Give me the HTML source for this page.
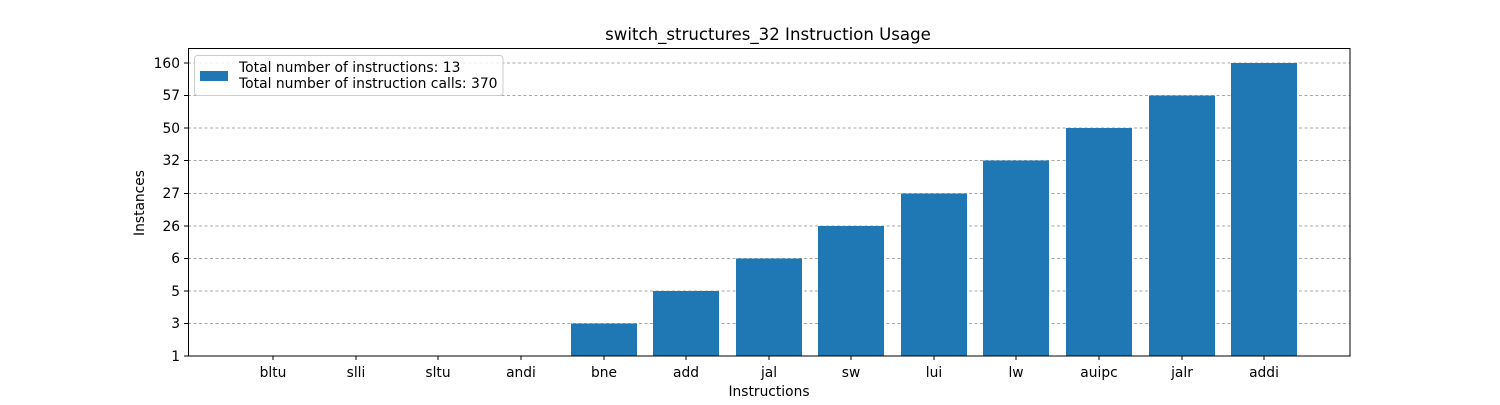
<!DOCTYPE html>
<html><head><meta charset="utf-8"><style>
html,body{margin:0;padding:0;background:#fff;}
svg text{font-family:"DejaVu Sans","Liberation Sans",sans-serif;fill:#000;}
</style></head><body>
<svg width="1500" height="400" xmlns="http://www.w3.org/2000/svg">
<rect width="1500" height="400" fill="#fff"/>
<text x="768" y="40" font-size="16.6" text-anchor="middle">switch_structures_32 Instruction Usage</text>
<g stroke="#a8a8a8" stroke-width="0.9" stroke-dasharray="3,2.5">
<line x1="188" x2="1350" y1="323.5" y2="323.5"/>
<line x1="188" x2="1350" y1="291" y2="291"/>
<line x1="188" x2="1350" y1="258.5" y2="258.5"/>
<line x1="188" x2="1350" y1="226" y2="226"/>
<line x1="188" x2="1350" y1="193.5" y2="193.5"/>
<line x1="188" x2="1350" y1="160.5" y2="160.5"/>
<line x1="188" x2="1350" y1="128" y2="128"/>
<line x1="188" x2="1350" y1="95.5" y2="95.5"/>
<line x1="188" x2="1350" y1="63" y2="63"/>
</g>
<g fill="#1f77b4">
<rect x="571" y="323.5" width="66" height="32.5"/>
<rect x="653" y="291" width="66" height="65"/>
<rect x="736" y="258.5" width="66" height="97.5"/>
<rect x="818" y="226" width="66" height="130"/>
<rect x="901" y="193.5" width="66" height="162.5"/>
<rect x="983" y="160.5" width="66" height="195.5"/>
<rect x="1066" y="128" width="66" height="228"/>
<rect x="1149" y="95.5" width="66" height="260.5"/>
<rect x="1231" y="63" width="66" height="293"/>
</g>
<rect x="188.5" y="48.5" width="1161.5" height="307.5" fill="none" stroke="#000" stroke-width="1"/>
<g stroke="#000" stroke-width="1">
<line x1="184" x2="188" y1="356" y2="356"/><line x1="184" x2="188" y1="323.5" y2="323.5"/>
<line x1="184" x2="188" y1="291" y2="291"/><line x1="184" x2="188" y1="258.5" y2="258.5"/>
<line x1="184" x2="188" y1="226" y2="226"/><line x1="184" x2="188" y1="193.5" y2="193.5"/>
<line x1="184" x2="188" y1="160.5" y2="160.5"/><line x1="184" x2="188" y1="128" y2="128"/>
<line x1="184" x2="188" y1="95.5" y2="95.5"/><line x1="184" x2="188" y1="63" y2="63"/>
</g>
<g font-size="13.8" text-anchor="end">
<text x="180" y="361">1</text><text x="180" y="328">3</text><text x="180" y="296">5</text>
<text x="180" y="263">6</text><text x="180" y="231">26</text><text x="180" y="198">27</text>
<text x="180" y="165">32</text><text x="180" y="133">50</text><text x="180" y="100">57</text>
<text x="180" y="68">160</text>
</g>
<g stroke="#000" stroke-width="1">
<line x1="273" x2="273" y1="356" y2="360"/><line x1="356" x2="356" y1="356" y2="360"/>
<line x1="438" x2="438" y1="356" y2="360"/><line x1="521" x2="521" y1="356" y2="360"/>
<line x1="604" x2="604" y1="356" y2="360"/><line x1="686" x2="686" y1="356" y2="360"/>
<line x1="769" x2="769" y1="356" y2="360"/><line x1="851" x2="851" y1="356" y2="360"/>
<line x1="934" x2="934" y1="356" y2="360"/><line x1="1016" x2="1016" y1="356" y2="360"/>
<line x1="1099" x2="1099" y1="356" y2="360"/><line x1="1182" x2="1182" y1="356" y2="360"/>
<line x1="1264" x2="1264" y1="356" y2="360"/>
</g>
<g font-size="13.8" text-anchor="middle">
<text x="273" y="377">bltu</text><text x="356" y="377">slli</text><text x="438" y="377">sltu</text>
<text x="521" y="377">andi</text><text x="604" y="377">bne</text><text x="686" y="377">add</text>
<text x="769" y="377">jal</text><text x="851" y="377">sw</text><text x="934" y="377">lui</text>
<text x="1016" y="377">lw</text><text x="1099" y="377">auipc</text><text x="1182" y="377">jalr</text>
<text x="1264" y="377">addi</text>
<text x="769" y="396">Instructions</text>
</g>
<text transform="translate(144,203) rotate(-90)" font-size="13.8" text-anchor="middle">Instances</text>
<rect x="194.5" y="55.5" width="308.5" height="40" rx="3" fill="#fff" fill-opacity="0.8" stroke="#ccc"/>
<rect x="200" y="71" width="28" height="10" fill="#1f77b4"/>
<text x="239" y="72" font-size="13.9">Total number of instructions: 13</text>
<text x="239" y="88" font-size="13.9">Total number of instruction calls: 370</text>
</svg>
</body></html>
